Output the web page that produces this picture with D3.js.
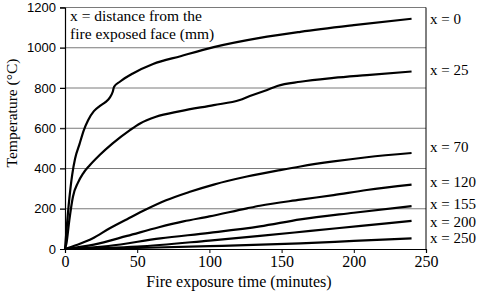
<!DOCTYPE html>
<html>
<head>
<meta charset="utf-8">
<script src="https://cdn.jsdelivr.net/npm/d3@7"></script>
<style>
  body { margin: 0; background: #fff; }
  svg { display: block; }
</style>
</head>
<body>
<div id="chart"></div>
<script>
// time (minutes), temperature (°C) for each depth
const x0   = [[0,0],[1,90],[3,250],[5,370],[7,450],[10,520],[13,590],[16,640],[20,685],[24,710],[28,730],[31,752],[33,780],[34,806],[38,831],[47,872],[61,919],[80,958],[103,1003],[135,1049],[163,1079],[200,1112],[240,1144]];
const x25  = [[0,0],[1,28],[3,144],[5.5,260],[9,330],[12.5,375],[17,415],[24,467],[33,525],[45,591],[52,624],[63,657],[80,685],[103,715],[121,740],[128,760],[140,790],[147,810],[163,831],[186,850],[209,864],[240,882]];
const x70  = [[0,0],[8,20],[19,52],[31,103],[43,148],[56,196],[70,242],[86,283],[103,320],[126,360],[149,392],[163,410],[186,435],[209,456],[240,477]];
const x120 = [[0,0],[20,22],[43,65],[65,108],[82,137],[100,162],[126,202],[135,215],[163,245],[186,268],[209,293],[240,320]];
const x155 = [[0,0],[30,15],[66,53],[100,80],[135,112],[163,147],[200,180],[240,213]];
const x200 = [[0,0],[50,12],[100,42],[135,65],[170,90],[205,115],[240,140]];
const x250 = [[0,0],[50,5],[100,14],[163,28],[200,40],[240,53]];

const seriesNames = ["x = 0", "x = 25", "x = 70", "x = 120", "x = 155", "x = 200", "x = 250"];
const seriesData = [x0, x25, x70, x120, x155, x200, x250];
const labelTemps = [1142, 889, 507, 333, 223, 134, 55];

const xTicks = [0, 50, 100, 150, 200, 250];
const yTicks = [0, 200, 400, 600, 800, 1000, 1200];
const legendLines = ["x = distance from the", "fire exposed face (mm)"];

const W = 483, H = 294;
const margin = { top: 7.5, right: 57, bottom: 45, left: 65 };
const serif = "'Liberation Serif', 'Times New Roman', 'DejaVu Serif', serif";

const svg = d3.select("#chart").append("svg")
    .attr("width", W)
    .attr("height", H);

const x = d3.scaleLinear().domain([0, 250]).range([margin.left, W - margin.right]);
const y = d3.scaleLinear().domain([0, 1200]).range([H - margin.bottom, margin.top]);

// gridlines
svg.append("g")
    .selectAll("line")
    .data(yTicks.filter(d => d > 0))
    .enter()
    .append("line")
    .attr("x1", x(0) - 5)
    .attr("x2", x(250))
    .attr("y1", d => y(d))
    .attr("y2", d => y(d))
    .attr("stroke", "#7a7a7a")
    .attr("stroke-width", 1);

// y axis
const yAxis = svg.append("g")
    .attr("transform", `translate(${x(0)},0)`)
    .call(d3.axisLeft(y).tickValues(yTicks).tickFormat(d3.format("d")).tickSize(5).tickPadding(4));
yAxis.select(".domain").attr("stroke", "#000").attr("stroke-width", 1.2);
yAxis.selectAll("text")
    .style("font-family", "'Liberation Sans', Arial, sans-serif")
    .style("font-size", "13px")
    .attr("fill", "#000");

// x axis
const xAxis = svg.append("g")
    .attr("transform", `translate(0,${y(0)})`)
    .call(d3.axisBottom(x).tickValues(xTicks).tickSize(4).tickPadding(3));
xAxis.select(".domain").attr("stroke", "#000").attr("stroke-width", 1.2);
xAxis.selectAll("text")
    .style("font-family", serif)
    .style("font-size", "16px")
    .attr("fill", "#000");

// right border
svg.append("line")
    .attr("x1", x(250)).attr("x2", x(250))
    .attr("y1", y(1200)).attr("y2", y(0))
    .attr("stroke", "#000")
    .attr("stroke-width", 1);

const line = d3.line()
    .x(d => x(d[0]))
    .y(d => y(d[1]))
    .curve(d3.curveMonotoneX);

svg.append("g")
    .selectAll("path")
    .data(seriesData)
    .enter()
    .append("path")
    .attr("fill", "none")
    .attr("stroke", "#000")
    .attr("stroke-width", 2.2)
    .attr("stroke-linejoin", "round")
    .attr("d", line);

// series labels on the right
svg.append("g")
    .selectAll("text")
    .data(seriesNames)
    .enter()
    .append("text")
    .attr("x", x(250) + 4)
    .attr("y", (d, i) => y(labelTemps[i]))
    .attr("dy", "0.35em")
    .style("font-family", serif)
    .style("font-size", "15px")
    .text(d => d);

// legend note
svg.append("g")
    .selectAll("text")
    .data(legendLines)
    .enter()
    .append("text")
    .attr("x", x(0) + 5)
    .attr("y", (d, i) => 21 + i * 17.5)
    .style("font-family", serif)
    .style("font-size", "15.5px")
    .text(d => d);

// X-axis Label
svg.append("text")
    .attr("x", 239)
    .attr("y", 287)
    .attr("text-anchor", "middle")
    .style("font-family", serif)
    .style("font-size", "16px")
    .text("Fire exposure time (minutes)");

// Y-axis Label
svg.append("text")
    .attr("transform", "rotate(-90)")
    .attr("x", -113)
    .attr("y", 17)
    .attr("text-anchor", "middle")
    .style("font-family", serif)
    .style("font-size", "15.5px")
    .text("Temperature (°C)");
</script>
</body>
</html>
